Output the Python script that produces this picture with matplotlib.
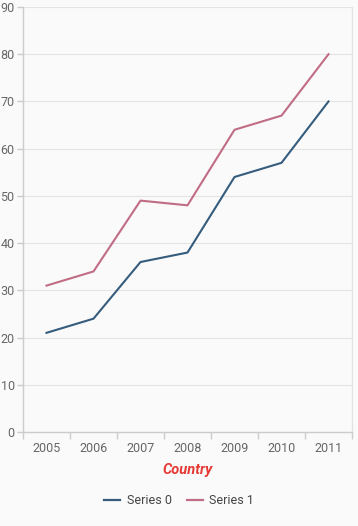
import matplotlib
matplotlib.use("Agg")
import matplotlib.pyplot as plt
from matplotlib.lines import Line2D

categories = ["2005", "2006", "2007", "2008", "2009", "2010", "2011"]
series0 = [21, 24, 36, 38, 54, 57, 70]
series1 = [31, 34, 49, 48, 64, 67, 80]
yticks = [0, 10, 20, 30, 40, 50, 60, 70, 80, 90]

plt.rcParams['font.family'] = ['Roboto', 'DejaVu Sans']
W, H = 358, 526
fig = plt.figure(figsize=(W/100, H/100), dpi=100)
fig.patch.set_facecolor('#fafafa')
ax = fig.add_axes([23/W, (H-432)/H, (352-23)/W, (432-7)/H])
ax.set_facecolor('#fafafa')

x = list(range(len(categories)))
c0 = '#355c7d'
c1 = '#c06c84'
ax.plot(x, series0, color=c0, lw=1.5, label='Series 0')
ax.plot(x, series1, color=c1, lw=1.5, label='Series 1')

ax.set_xlim(-0.5, len(categories) - 0.5)
ax.set_ylim(0, 90)
ax.set_yticks(yticks)
ax.set_yticklabels([str(v) for v in yticks])
ax.set_xticks(x)
ax.set_xticklabels(categories)
ax.set_xticks([i - 0.5 for i in range(len(categories) + 1)], minor=True)
ax.tick_params(axis='x', which='major', length=0, pad=7, labelsize=9, colors='#666666')
ax.tick_params(axis='x', which='minor', length=5, color='#cccccc', width=1)
ax.tick_params(axis='y', length=4, color='#cccccc', width=1, pad=2, labelsize=9, labelcolor='#666666')
ax.grid(axis='y', color='#e4e4e4', lw=0.8)
ax.set_axisbelow(True)
ax.spines['top'].set_visible(False)
for s in ['left', 'bottom', 'right']:
    ax.spines[s].set_color('#cccccc')
    ax.spines[s].set_linewidth(1)
ax.spines['right'].set_color('#e4e4e4')

ax.set_xlabel('Country', color='#e53935', fontsize=10.5, fontweight='bold', fontstyle='italic')
ax.xaxis.set_label_coords(0.5, -(470 - 432) / (432 - 7), transform=ax.transAxes)
ax.xaxis.label.set_va('center')

handles = [Line2D([], [], color=c0, lw=1.6), Line2D([], [], color=c1, lw=1.6)]
leg = fig.legend(handles, ['Series 0', 'Series 1'], loc='center', bbox_to_anchor=(0.5, (H-501)/H),
                 ncol=2, frameon=False, fontsize=9, handlelength=1.3, columnspacing=1.2, handletextpad=0.5)
for t in leg.get_texts():
    t.set_color('#444444')

fig.savefig('out.png', dpi=100, facecolor=fig.get_facecolor())
